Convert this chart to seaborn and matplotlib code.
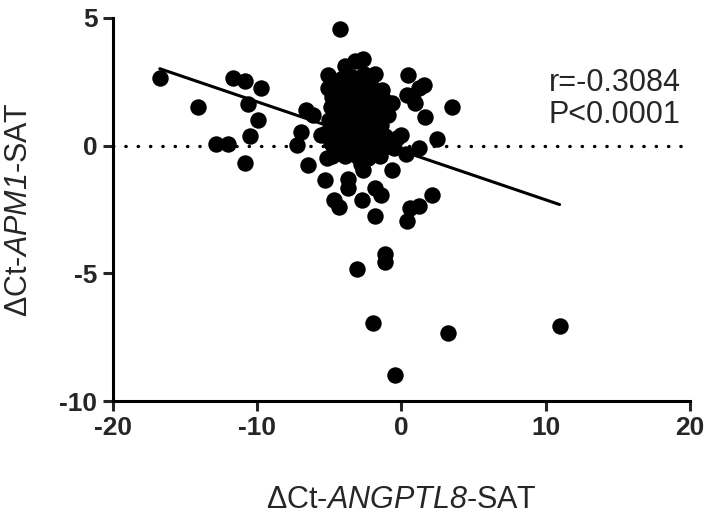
import matplotlib

matplotlib.use("Agg")

import matplotlib.pyplot as plt
import numpy as np
import pandas as pd
import seaborn as sns


# delta Ct values (ANGPTL8 on x, APM1 on y)
OUTER_X = [
    -16.74, -14.08, -11.65, -10.85, -9.75, -10.6, -9.96, -10.49, -12.87, -12.0, -10.85,
    -6.6, -6.09, -6.96, -7.25, -6.5, -5.55,
    -4.28, -5.05, -5.1, -3.9, -3.2, -2.62, -1.81, -1.35, -0.65, -1.69,
    0.46, 1.55, 1.2, 0.39, 0.97, 1.62, 3.51, 2.47, 1.2, 0.35, 0.0, 0.74, -1.11,
    -5.17, -4.8, -5.28, -3.66, -3.66, -4.63, -4.35, -2.74, -1.83, -1.4, -1.81,
    -2.8, -2.62, -0.65, 2.13, 1.2, 0.62, 0.39, -1.11, -1.11, -3.08, -1.97, 3.24,
    10.97, -0.42,
]
OUTER_Y = [
    2.63, 1.50, 2.65, 2.55, 2.26, 1.65, 1.02, 0.36, 0.08, 0.08, -0.68,
    1.41, 1.22, 0.52, 0.04, -0.75, 0.41,
    4.55, 2.78, 2.26, 3.11, 3.31, 3.40, 2.82, 2.17, 1.67, 1.67,
    2.78, 2.39, 2.26, 2.00, 1.67, 1.12, 1.50, 0.26, -0.09, -0.31, 0.43, 1.93, 0.37,
    -0.50, -0.42, -1.33, -1.30, -1.66, -2.12, -2.42, -2.12, -1.66, -1.92, -2.75,
    -0.70, -0.94, -0.94, -1.92, -2.38, -2.44, -2.97, -4.24, -4.54, -4.82, -6.93, -7.32,
    -7.08, -8.98,
]

# dense cluster around (-3, 1), estimated
CLUSTER_X = [
    -4.6, -4.2, -3.8, -3.4, -3.0, -2.6, -2.2,
    -4.8, -4.4, -4.0, -3.6, -3.2, -2.8, -2.4, -2.0,
    -4.9, -4.5, -4.1, -3.7, -3.3, -2.9, -2.5, -2.1, -1.7,
    -5.0, -4.6, -4.2, -3.8, -3.4, -3.0, -2.6, -2.2, -1.8,
    -5.2, -4.8, -4.4, -4.0, -3.6, -3.2, -2.8, -2.4, -2.0, -1.6,
    -4.9, -4.5, -4.1, -3.7, -3.3, -2.9, -2.5, -2.1, -1.7, -1.3, -0.9, -0.5, -0.3,
    -4.3, -3.9, -3.5, -3.1, -2.7, -2.3, -1.9, -1.5,
    -4.0, -3.5, -3.0, -2.7, -3.9, -4.3, -2.3, -3.1, -3.6, -2.9,
    -1.2, -0.9, -1.4,
]
CLUSTER_Y = [
    2.4, 2.6, 2.5, 2.7, 2.6, 2.8, 2.5,
    1.9, 2.0, 2.1, 1.9, 2.2, 2.0, 2.1, 1.9,
    1.5, 1.4, 1.6, 1.5, 1.7, 1.4, 1.6, 1.4, 1.3,
    1.0, 0.9, 1.1, 1.0, 1.2, 0.9, 1.1, 0.9, 1.0,
    0.5, 0.6, 0.4, 0.6, 0.5, 0.7, 0.4, 0.6, 0.4, 0.5,
    0.1, 0.0, 0.2, 0.0, 0.2, -0.1, 0.1, -0.1, 0.1, -0.1, 0.2, -0.1, 0.3,
    -0.3, -0.4, -0.2, -0.4, -0.3, -0.5, -0.3, -0.4,
    1.3, 0.8, 0.3, 1.8, 1.8, 0.8, 1.2, 1.0, 2.3, 2.3,
    1.8, 1.2, 0.8,
]

# regression line as drawn in the reference
FIT_SLOPE = -0.192
FIT_INTERCEPT = -0.20
STATS_TEXT = "r=-0.3084\nP<0.0001"

X_TICKS = [-20, -10, 0, 10, 20]
Y_TICKS = [-10, -5, 0, 5]


def main():
    sns.set_theme(style="ticks")
    plt.rcParams["font.family"] = ["Liberation Sans", "DejaVu Sans"]
    plt.rcParams["axes.unicode_minus"] = False
    # only the gene names go through mathtext, and they are all italic (digits too)
    plt.rcParams["mathtext.fontset"] = "custom"
    plt.rcParams["mathtext.rm"] = "Liberation Sans:italic"
    plt.rcParams["mathtext.it"] = "Liberation Sans:italic"

    df = pd.DataFrame({
        "angptl8": OUTER_X + CLUSTER_X,
        "apm1": OUTER_Y + CLUSTER_Y,
    })

    fig = plt.figure(figsize=(7.09, 5.21), dpi=100)
    ax = fig.add_axes([0.159, 0.2303, 0.814, 0.7352])

    ax.axhline(0, color="black", linewidth=2.4, linestyle=(0, (0.1, 3.6)),
               dash_capstyle="round", zorder=1)

    sns.scatterplot(data=df, x="angptl8", y="apm1", s=140, color="black",
                    edgecolor="black", linewidth=0, ax=ax, zorder=3)

    fit = pd.DataFrame({"x": [df["angptl8"].min(), df["angptl8"].max()]})
    fit["y"] = FIT_INTERCEPT + FIT_SLOPE * fit["x"]
    sns.lineplot(data=fit, x="x", y="y", color="black", linewidth=2.2, ax=ax, zorder=4)

    ax.set_xlim(-20, 20)
    ax.set_ylim(-10, 5)
    ax.set_xticks(X_TICKS)
    ax.set_yticks(Y_TICKS)
    ax.tick_params(direction="out", length=7, width=2.2, labelsize=19, pad=4)
    for lab in ax.get_xticklabels() + ax.get_yticklabels():
        lab.set_fontweight("bold")

    sns.despine(ax=ax)
    for side in ["left", "bottom"]:
        ax.spines[side].set_linewidth(2.2)
        ax.spines[side].set_color("black")
    ax.margins(0)

    ax.set_xlabel("ΔCt-$ANGPTL8$-SAT", fontsize=22)
    ax.set_ylabel("ΔCt-$APM1$-SAT", fontsize=22)
    ax.xaxis.set_label_coords(0.5, -0.218)
    ax.yaxis.set_label_coords(-0.137, 0.5)

    ax.text(0.755, 0.87, STATS_TEXT, transform=ax.transAxes, fontsize=22,
            va="top", ha="left", linespacing=1.1)

    fig.savefig("out.png", dpi=100)
    plt.close(fig)


if __name__ == "__main__":
    main()
